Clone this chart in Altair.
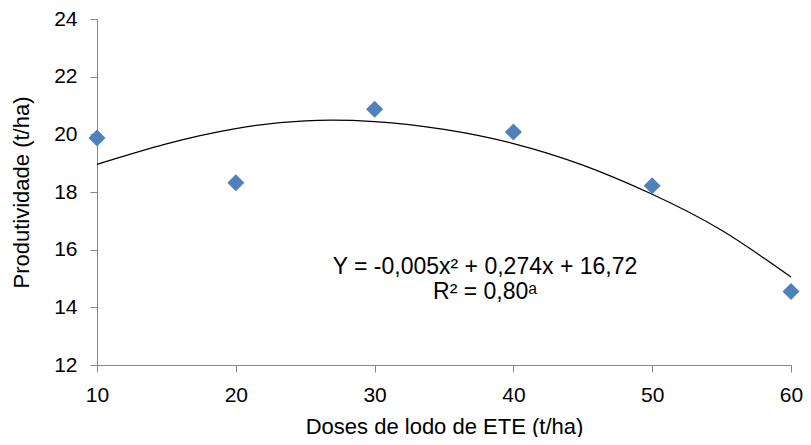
import altair as alt
import pandas as pd

# Observed data points
doses = [10, 20, 30, 40, 50, 60]
produtividade = [19.87, 18.32, 20.87, 20.08, 18.22, 14.55]

# Trend curve
curve_x = [10, 15, 20, 25, 30, 35, 40, 45, 50, 55, 60]
curve_y = [18.96, 19.67, 20.20, 20.47, 20.44, 20.17, 19.68, 18.93, 17.92, 16.67, 15.05]

x_ticks = [10, 20, 30, 40, 50, 60]
y_ticks = [12, 14, 16, 18, 20, 22, 24]

eq_lines = ["Y = -0,005x² + 0,274x + 16,72", "R² = 0,80ᵃ"]

pts = pd.DataFrame({"x": doses, "y": produtividade})
crv = pd.DataFrame({"x": curve_x, "y": curve_y})

FONT = "Liberation Sans"
AX = "#868686"

xscale = alt.Scale(domain=[10, 60], nice=False, zero=False)
yscale = alt.Scale(domain=[12, 24], nice=False, zero=False)

xaxis = alt.Axis(values=x_ticks, title="Doses de lodo de ETE (t/ha)", grid=False,
                 domainColor=AX, tickColor=AX, tickSize=7, labelPadding=12,
                 labelFlush=False,
                 labelFontSize=21, labelFont=FONT, labelColor="#000000",
                 titleFontSize=22, titleFont=FONT, titleFontWeight="normal",
                 titleColor="#000000", titlePadding=11)
yaxis = alt.Axis(values=y_ticks, title="Produtividade (t/ha)", grid=False,
                 domainColor=AX, tickColor=AX, tickSize=7, labelPadding=13,
                 labelFlush=False,
                 labelFontSize=21, labelFont=FONT, labelColor="#000000",
                 titleFontSize=22, titleFont=FONT, titleFontWeight="normal",
                 titleColor="#000000", titlePadding=20)

line = alt.Chart(crv).mark_line(color="#000000", strokeWidth=1.2, interpolate="natural").encode(
    x=alt.X("x:Q", scale=xscale, axis=xaxis),
    y=alt.Y("y:Q", scale=yscale, axis=yaxis),
)

points = alt.Chart(pts).mark_point(shape="diamond", filled=True, size=290,
                                   color="#4F81BD", opacity=1).encode(
    x=alt.X("x:Q", scale=xscale),
    y=alt.Y("y:Q", scale=yscale),
)

txt1 = alt.Chart(pd.DataFrame({"t": [eq_lines[0]]})).mark_text(
    font=FONT, fontSize=23, color="#000000", align="center", baseline="middle"
).encode(text="t:N", x=alt.value(388), y=alt.value(248))

txt2 = alt.Chart(pd.DataFrame({"t": [eq_lines[1]]})).mark_text(
    font=FONT, fontSize=23, color="#000000", align="center", baseline="middle"
).encode(text="t:N", x=alt.value(388), y=alt.value(273))

chart = alt.layer(line, points, txt1, txt2).properties(
    width=694, height=346,
    autosize=alt.AutoSizeParams(type="none"),
    padding={"left": 89, "top": 11, "right": 12, "bottom": 72},
).configure_view(stroke=None)

chart.save("out.html", embed_options={"renderer": "svg", "actions": False})
